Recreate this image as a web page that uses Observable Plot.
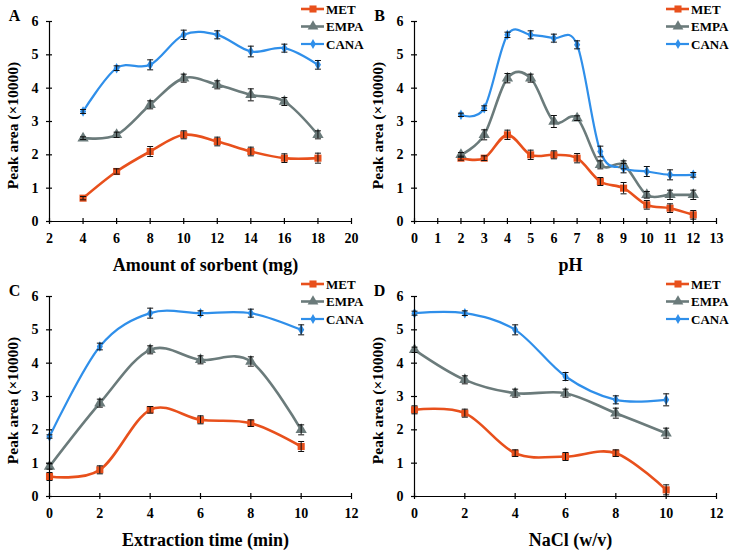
<!DOCTYPE html>
<html><head><meta charset="utf-8">
<script src="https://cdn.jsdelivr.net/npm/d3@7"></script>
<script src="https://cdn.jsdelivr.net/npm/@observablehq/plot@0.6"></script>
<style>
body{margin:0;background:#fff;}
#root{position:relative;width:734px;height:551px;overflow:hidden;background:#fff;}
.panel{position:absolute;}
</style></head><body><div id="root"></div>
<script>
const seriesNames = ["MET", "EMPA", "CANA"];
const seriesColors = ["#e8501c", "#6b7b7b", "#2f8fea"];
const seriesSymbols = ["square", "triangle", "diamond"];
const yTicks = [0, 1, 2, 3, 4, 5, 6];
const yLabel = "Peak area (×10000)";

// Panel A: amount of sorbent
const xA = [4, 6, 8, 10, 12, 14, 16, 18];
const metA = [0.7, 1.5, 2.1, 2.6, 2.4, 2.1, 1.9, 1.9];
const empaA = [2.5, 2.6, 3.5, 4.3, 4.1, 3.8, 3.6, 2.6];
const canaA = [3.3, 4.6, 4.7, 5.6, 5.6, 5.1, 5.2, 4.7];
const metErrA = [0.05, 0.08, 0.15, 0.12, 0.13, 0.13, 0.13, 0.15];
const empaErrA = [0.04, 0.08, 0.12, 0.12, 0.12, 0.18, 0.12, 0.12];
const canaErrA = [0.06, 0.07, 0.15, 0.14, 0.12, 0.16, 0.12, 0.13];
const xTicksA = [2, 4, 6, 8, 10, 12, 14, 16, 18, 20];

// Panel B: pH
const xB = [2, 3, 4, 5, 6, 7, 8, 9, 10, 11, 12];
const metB = [1.9, 1.9, 2.6, 2.0, 2.0, 1.9, 1.2, 1.0, 0.5, 0.4, 0.2];
const empaB = [2.0, 2.6, 4.3, 4.3, 3.0, 3.1, 1.7, 1.7, 0.8, 0.8, 0.8];
const canaB = [3.2, 3.4, 5.6, 5.6, 5.5, 5.3, 2.1, 1.6, 1.5, 1.4, 1.4];
const metErrB = [0.06, 0.07, 0.14, 0.14, 0.12, 0.14, 0.12, 0.17, 0.13, 0.13, 0.13];
const empaErrB = [0.07, 0.15, 0.14, 0.12, 0.18, 0.07, 0.12, 0.12, 0.1, 0.14, 0.14];
const canaErrB = [0.05, 0.07, 0.08, 0.12, 0.12, 0.12, 0.16, 0.14, 0.15, 0.15, 0.07];
const xTicksB = [0, 1, 2, 3, 4, 5, 6, 7, 8, 9, 10, 11, 12, 13];

// Panel C: extraction time
const xC = [0, 2, 4, 6, 8, 10];
const metC = [0.6, 0.8, 2.6, 2.3, 2.2, 1.5];
const empaC = [0.9, 2.8, 4.4, 4.1, 4.05, 2.0];
const canaC = [1.8, 4.5, 5.5, 5.5, 5.5, 5.0];
const metErrC = [0.12, 0.12, 0.1, 0.12, 0.1, 0.15];
const empaErrC = [0.08, 0.12, 0.12, 0.12, 0.14, 0.15];
const canaErrC = [0.05, 0.1, 0.15, 0.07, 0.12, 0.15];
const xTicksC = [0, 2, 4, 6, 8, 10, 12];

// Panel D: NaCl
const xD = [0, 2, 4, 6, 8, 10];
const metD = [2.6, 2.5, 1.3, 1.2, 1.3, 0.2];
const empaD = [4.4, 3.5, 3.1, 3.1, 2.5, 1.9];
const canaD = [5.5, 5.5, 5.0, 3.6, 2.9, 2.9];
const metErrD = [0.12, 0.12, 0.1, 0.12, 0.1, 0.15];
const empaErrD = [0.08, 0.12, 0.12, 0.12, 0.15, 0.15];
const canaErrD = [0.06, 0.07, 0.15, 0.12, 0.12, 0.18];
const xTicksD = [0, 2, 4, 6, 8, 10, 12];

const panels = [
  {letter: "A", left: 0, top: 0, x: xA, ys: [metA, empaA, canaA], errs: [metErrA, empaErrA, canaErrA], ticks: xTicksA, label: "Amount of sorbent (mg)"},
  {letter: "B", left: 365, top: 0, x: xB, ys: [metB, empaB, canaB], errs: [metErrB, empaErrB, canaErrB], ticks: xTicksB, label: "pH"},
  {letter: "C", left: 0, top: 275, x: xC, ys: [metC, empaC, canaC], errs: [metErrC, empaErrC, canaErrC], ticks: xTicksC, label: "Extraction time (min)"},
  {letter: "D", left: 365, top: 275, x: xD, ys: [metD, empaD, canaD], errs: [metErrD, empaErrD, canaErrD], ticks: xTicksD, label: "NaCl (w/v)"}
];

const capSymbol = {draw(ctx, size) { const r = Math.sqrt(size / Math.PI); ctx.moveTo(-r, 0); ctx.lineTo(r, 0); }};
const FONT = "'Liberation Serif','Times New Roman',serif";
const root = document.getElementById("root");

for (const p of panels) {
  const rows = [];
  seriesNames.forEach((s, si) => p.x.forEach((xv, i) => rows.push({series: s, si, x: xv, y: p.ys[si][i], err: p.errs[si][i]})));
  const xmin = p.ticks[0], xmax = p.ticks[p.ticks.length - 1];
  const marks = [];
  seriesNames.forEach((s, si) => {
    marks.push(Plot.line(rows.filter(r => r.si === si), {x: "x", y: "y", stroke: seriesColors[si], strokeWidth: si === 2 ? 2.2 : 2.6, curve: "cardinal"}));
  });
  seriesNames.forEach((s, si) => {
    marks.push(Plot.dot(rows.filter(r => r.si === si), {x: "x", y: "y", symbol: seriesSymbols[si], r: si === 0 ? 4 : (si === 1 ? 4.2 : 3.2), fill: seriesColors[si], stroke: "none"}));
  });
  marks.push(Plot.ruleX(rows, {x: "x", y1: d => d.y - d.err, y2: d => d.y + d.err, stroke: "#111", strokeWidth: 1}));
  marks.push(Plot.dot(rows, {x: "x", y: d => d.y + d.err, symbol: capSymbol, r: 3, stroke: "#111", strokeWidth: 1, fill: "none"}));
  marks.push(Plot.dot(rows, {x: "x", y: d => d.y - d.err, symbol: capSymbol, r: 3, stroke: "#111", strokeWidth: 1, fill: "none"}));
  marks.push(Plot.ruleY([0], {stroke: "#000", strokeWidth: 1.2}));
  marks.push(Plot.ruleX([xmin], {stroke: "#000", strokeWidth: 1.2}));
  marks.push(Plot.axisX({ticks: p.ticks, tickSize: 6, dy: -3, tickPadding: 9, tickFormat: d3.format("d"), label: null, stroke: "#000", strokeWidth: 1.2}));
  marks.push(Plot.axisY({ticks: yTicks, tickSize: 6, dx: 3, tickPadding: 8, tickFormat: d3.format("d"), label: null, stroke: "#000", strokeWidth: 1.2}));
  marks.push(Plot.text([p.label], {frameAnchor: "bottom", text: d => d, dy: 44, dx: 5, textAnchor: "middle", lineAnchor: "middle", fontSize: 18}));
  marks.push(Plot.text([yLabel], {frameAnchor: "left", text: d => d, rotate: -90, dx: -36, dy: 4, textAnchor: "middle", lineAnchor: "middle", fontSize: 15.5}));
  marks.push(Plot.text([p.letter], {frameAnchor: "top-left", text: d => d, dx: -35, dy: -6, textAnchor: "middle", lineAnchor: "middle", fontSize: 16}));

  const chart = Plot.plot({
    width: 367, height: 275,
    marginLeft: 49, marginRight: 16, marginTop: 21, marginBottom: 54,
    x: {domain: [xmin, xmax], ticks: p.ticks},
    y: {domain: [0, 6], ticks: yTicks},
    style: {fontFamily: FONT, fontSize: "14px", fontWeight: "bold", color: "#000", background: "transparent", overflow: "visible"},
    marks
  });
  chart.classList.add("panel");
  chart.style.left = p.left + "px";
  chart.style.top = p.top + "px";
  root.appendChild(chart);

  // legend
  const lg = d3.select(root).append("svg").attr("class", "panel")
    .attr("width", 75).attr("height", 56)
    .style("left", (p.left + 295) + "px").style("top", p.top + "px");
  const symTypes = [d3.symbolSquare, d3.symbolTriangle, d3.symbolDiamond];
  const symSizes = [50, 50, 28];
  seriesNames.forEach((s, si) => {
    const yy = 9 + si * 17.5;
    lg.append("line").attr("x1", 6).attr("x2", 29).attr("y1", yy).attr("y2", yy)
      .attr("stroke", seriesColors[si]).attr("stroke-width", si === 2 ? 2.2 : 2.6);
    lg.append("path").attr("d", d3.symbol(symTypes[si], symSizes[si])()).attr("transform", `translate(18,${yy})`).attr("fill", seriesColors[si]);
    lg.append("text").attr("x", 31).attr("y", yy).attr("dy", "0.35em").text(s)
      .style("font-family", FONT).style("font-weight", "bold").style("font-size", "13px").attr("fill", "#000");
  });
}
</script></body></html>
